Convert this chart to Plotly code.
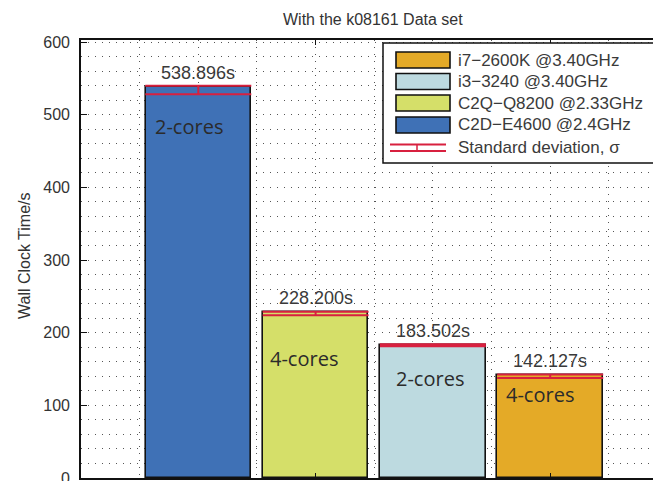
import plotly.graph_objects as go

# Wall clock time per processor (k08161 data set)
cpus = ["C2D\u2212E4600 @2.4GHz", "C2Q\u2212Q8200 @2.33GHz", "i3\u22123240 @3.40GHz", "i7\u22122600K @3.40GHz"]
positions = [1, 2, 3, 4]
wall_times = [538.896, 228.200, 183.502, 142.127]
sd_plus = [1.0, 0.6, 0.5, 0.5]
sd_minus = [10.5, 4.0, 2.0, 4.5]
core_labels = ["2-cores", "4-cores", "2-cores", "4-cores"]
y_ticks = [0, 100, 200, 300, 400, 500, 600]

bar_colors = ["#3f71b6", "#d5df69", "#bddae0", "#e4aa27"]
sd_color = "#d8203f"
text_color = "#2b2b2b"
base_font = "Liberation Sans, Arial, sans-serif"

W, H = 653, 481
L, R, T, B = 81, 0, 40, 3
plot_w = W - L - R
plot_h = H - T - B
bar_width = 0.9


def px_x(px):
    return (px - L) / plot_w


def px_y(py):
    return (H - B - py) / plot_h


fig = go.Figure()
fig.add_trace(go.Bar(
    x=positions,
    y=wall_times,
    width=bar_width,
    marker=dict(color=bar_colors, line=dict(color="#111111", width=1.6)),
    error_y=dict(type="data", symmetric=False, array=sd_plus, arrayminus=sd_minus,
                 color=sd_color, thickness=2, width=53),
    showlegend=False,
    hoverinfo="skip",
))

annotations = []
# value labels above bars
for xv, yv in zip(positions, wall_times):
    annotations.append(dict(x=xv, y=yv, xref="x", yref="y", text=f"{yv:.3f}s",
                            showarrow=False, xanchor="center", yanchor="bottom", yshift=2,
                            font=dict(family=base_font, size=18, color="#3a3a3a")))

# core count labels inside bars
label_drop = [40, 46, 34, 20]
label_indent = [7, 5, 14, 7]
for xv, yv, lab, dy, dx in zip(positions, wall_times, core_labels, label_drop, label_indent):
    annotations.append(dict(x=xv - bar_width / 2, y=yv, xref="x", yref="y", text=lab,
                            showarrow=False, xanchor="left", yanchor="middle",
                            xshift=dx, yshift=-dy,
                            font=dict(family="Open Sans, sans-serif", size=20, color=text_color)))

# title and axis title
annotations.append(dict(x=px_x(373), y=px_y(19), xref="paper", yref="paper",
                        text="With the k08161 Data set", showarrow=False,
                        xanchor="center", yanchor="middle",
                        font=dict(family=base_font, size=16, color="#333333")))
annotations.append(dict(x=px_x(24), y=px_y(256), xref="paper", yref="paper",
                        text="Wall Clock Time/s", showarrow=False, textangle=-90,
                        xanchor="center", yanchor="middle",
                        font=dict(family=base_font, size=16, color="#333333")))

# legend box drawn by hand
shapes = [dict(type="rect", xref="paper", yref="paper",
               x0=px_x(383), x1=1.1, y0=px_y(163), y1=px_y(43),
               fillcolor="white", line=dict(color="#111111", width=1.5), layer="above")]
row_y = [60, 81.5, 103, 125]
for ry, name, col in zip(row_y, cpus[::-1], bar_colors[::-1]):
    shapes.append(dict(type="rect", xref="paper", yref="paper",
                       x0=px_x(396), x1=px_x(450), y0=px_y(ry + 8), y1=px_y(ry - 8),
                       fillcolor=col, line=dict(color="#111111", width=1.6), layer="above"))
    annotations.append(dict(x=px_x(456), y=px_y(ry), xref="paper", yref="paper",
                            text=name, showarrow=False, xanchor="left", yanchor="middle",
                            font=dict(family=base_font, size=17, color="#3a3a3a")))
sd_row = 147.7
for dy in (-3.3, 3.3):
    shapes.append(dict(type="line", xref="paper", yref="paper",
                       x0=px_x(390), x1=px_x(446), y0=px_y(sd_row + dy), y1=px_y(sd_row + dy),
                       line=dict(color=sd_color, width=2), layer="above"))
shapes.append(dict(type="line", xref="paper", yref="paper",
                   x0=px_x(417), x1=px_x(417), y0=px_y(sd_row + 3.3), y1=px_y(sd_row - 3.3),
                   line=dict(color=sd_color, width=1.5), layer="above"))
annotations.append(dict(x=px_x(456), y=px_y(sd_row), xref="paper", yref="paper",
                        text="Standard deviation, \u03c3", showarrow=False,
                        xanchor="left", yanchor="middle",
                        font=dict(family=base_font, size=17, color="#3a3a3a")))

grid_col = "#555555"
fig.update_layout(
    width=W, height=H,
    margin=dict(l=L, r=R, t=T, b=B, pad=0, autoexpand=False),
    paper_bgcolor="white", plot_bgcolor="white",
    font=dict(family=base_font, size=15, color="#333333"),
    shapes=shapes,
    annotations=annotations,
    bargap=0,
)
fig.update_xaxes(
    range=[0, plot_w / 117.3],
    tickmode="linear", tick0=0, dtick=2,
    showticklabels=False,
    ticks="inside", ticklen=5, tickcolor="#111111",
    showline=True, linecolor="#111111", linewidth=1.6, mirror="ticks",
    showgrid=True, gridcolor=grid_col, griddash="1px,6px", gridwidth=1,
    minor=dict(dtick=0.5, tick0=0, showgrid=True, gridcolor=grid_col,
               griddash="1px,6px", gridwidth=1),
    zeroline=False, fixedrange=True, automargin=False,
)
fig.update_yaxes(
    range=[0, 603],
    tickmode="array", tickvals=y_ticks, ticktext=[str(v) for v in y_ticks],
    ticks="inside", ticklen=6, tickcolor="#111111",
    ticklabelstandoff=6, ticklabeloverflow="allow",
    tickfont=dict(family=base_font, size=16, color="#333333"),
    showline=True, linecolor="#111111", linewidth=1.6, mirror=False,
    showgrid=True, gridcolor=grid_col, griddash="1px,6px", gridwidth=1,
    minor=dict(dtick=20, tick0=0, showgrid=True, gridcolor=grid_col,
               griddash="1px,6px", gridwidth=1),
    zeroline=False, fixedrange=True, automargin=False,
)

fig.write_html("out.html")
